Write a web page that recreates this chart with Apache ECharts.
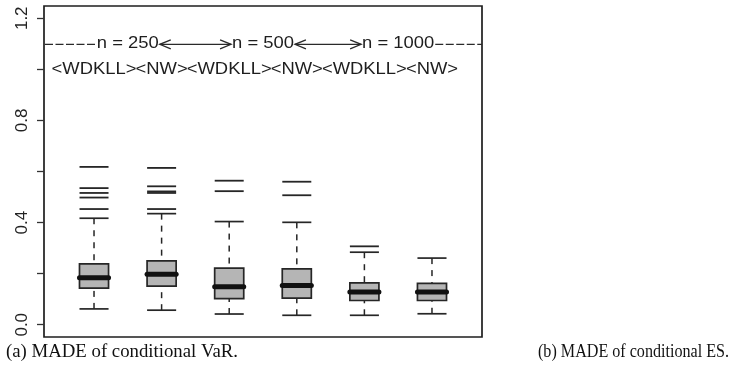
<!DOCTYPE html>
<html><head><meta charset="utf-8">
<script src="https://cdn.jsdelivr.net/npm/echarts@6/dist/echarts.min.js"></script>
<style>html,body{margin:0;padding:0;background:#fff}#c{width:731px;height:375px}</style>
</head><body><div id="c"></div>
<script>
// ---- data ----
const categories = ['WDKLL n=250', 'NW n=250', 'WDKLL n=500', 'NW n=500', 'WDKLL n=1000', 'NW n=1000'];
const whiskerLow  = [0.062, 0.057, 0.042, 0.037, 0.037, 0.043];
const q1          = [0.143, 0.151, 0.102, 0.104, 0.095, 0.095];
const median      = [0.184, 0.198, 0.149, 0.154, 0.128, 0.128];
const q3          = [0.238, 0.250, 0.222, 0.219, 0.164, 0.162];
const whiskerHigh = [0.417, 0.435, 0.404, 0.401, 0.284, 0.261];
const outliers = [
  [0.618, 0.535, 0.516, 0.498, 0.453],
  [0.614, 0.542, 0.522, 0.516, 0.453],
  [0.564, 0.523],
  [0.560, 0.507],
  [0.307],
  []
];
const yTickValues  = [0, 0.2, 0.4, 0.6, 0.8, 1.0, 1.2];
const yLabelValues = [0, 0.4, 0.8, 1.2];
const sizeLabels = ['n = 250', 'n = 500', 'n = 1000'];
const sizePos    = [1.5, 3.5, 5.5];
const sizeRowY   = 1.1;
const methodLabels = ['<WDKLL>', '<NW>', '<WDKLL>', '<NW>', '<WDKLL>', '<NW>'];
const methodRowY   = 1.0;
const captionA = '(a) MADE of conditional VaR.';
const captionB = '(b) MADE of conditional ES.';

// ---- build ----
const boxData = categories.map((c, i) => [i + 1, whiskerLow[i], q1[i], median[i], q3[i], whiskerHigh[i]]);
const outData = [];
outliers.forEach((arr, i) => arr.forEach(v => outData.push([i + 1, v])));

const INK = '#262626';
const chart = echarts.init(document.getElementById('c'), null, {renderer: 'canvas'});

function renderBox(params, api) {
  const x = api.value(0);
  const lo = api.coord([x, api.value(1)]);
  const b1 = api.coord([x, api.value(2)]);
  const md = api.coord([x, api.value(3)]);
  const b3 = api.coord([x, api.value(4)]);
  const hi = api.coord([x, api.value(5)]);
  const band = api.size([1, 0])[0];
  const half = band * 0.215;
  const cx = md[0];
  const dash = {stroke: INK, lineWidth: 1.5, lineDash: [6, 6]};
  const solid = {stroke: INK, lineWidth: 1.7};
  return {
    type: 'group',
    children: [
      {type: 'line', shape: {x1: cx, y1: hi[1], x2: cx, y2: b3[1]}, style: dash},
      {type: 'line', shape: {x1: cx, y1: lo[1], x2: cx, y2: b1[1]}, style: dash},
      {type: 'line', shape: {x1: cx - half, y1: hi[1], x2: cx + half, y2: hi[1]}, style: solid},
      {type: 'line', shape: {x1: cx - half, y1: lo[1], x2: cx + half, y2: lo[1]}, style: solid},
      {type: 'rect', shape: {x: cx - half, y: b3[1], width: 2 * half, height: b1[1] - b3[1]},
        style: {fill: '#b5b5b5', stroke: INK, lineWidth: 1.7}},
      {type: 'line', shape: {x1: cx - half, y1: md[1], x2: cx + half, y2: md[1]},
        style: {stroke: '#111', lineWidth: 5, lineCap: 'round'}}
    ]
  };
}

chart.setOption({
  animation: false,
  grid: {left: 44, right: 249, top: 6, bottom: 38, show: true, borderColor: '#1e1e1e', borderWidth: 1.7, backgroundColor: 'transparent'},
  xAxis: {type: 'value', min: 0.26, max: 6.74, show: false},
  yAxis: {
    type: 'value', min: -0.048, max: 1.248,
    splitLine: {show: false},
    axisLine: {show: false},
    axisTick: {show: true, inside: false, length: 7, customValues: yTickValues, lineStyle: {color: '#333', width: 1.3}},
    axisLabel: {show: true, customValues: yLabelValues, rotate: 90, margin: 13, color: '#222',
      fontSize: 17, fontFamily: 'Liberation Sans', formatter: v => Number(v).toFixed(1)}
  },
  series: [
    {type: 'custom', renderItem: renderBox, data: boxData, encode: {x: 0, y: [1, 2, 3, 4, 5]}, z: 2},
    {type: 'scatter', data: outData, symbol: 'rect', symbolSize: [29, 1.8], itemStyle: {color: INK, opacity: 1}, z: 3}
  ]
});

// ---- annotations ----
const SX = 1.15;
const FONT = '16px "Liberation Sans"';
const CAPFONT = '18.5px "Liberation Serif"';
const ctx = document.createElement('canvas').getContext('2d');
const tw = (s, f) => { ctx.font = f || FONT; return ctx.measureText(s).width; };
const P = (x, y) => chart.convertToPixel({gridIndex: 0}, [x, y]);

const g = [];
function addText(s, px, py) {
  g.push({type: 'text', x: px, y: py, scaleX: SX, z: 10,
    style: {text: s, x: 0, y: 0, align: 'center', verticalAlign: 'middle', font: FONT, fill: '#1e1e1e'}});
}
function addLine(x1, x2, y, dashArr) {
  g.push({type: 'line', z: 10, shape: {x1, y1: y, x2, y2: y},
    style: {stroke: '#2a2a2a', lineWidth: 1.3, lineDash: dashArr || null}});
}
function addHead(xTip, y, dir) {
  g.push({type: 'polyline', z: 10, shape: {points: [[xTip + dir * 11, y - 4.5], [xTip, y], [xTip + dir * 11, y + 4.5]]},
    style: {stroke: '#2a2a2a', lineWidth: 1.3, fill: null}});
}

const leftEdge = P(0.26, 0)[0], rightEdge = P(6.74, 0)[0];
const edges = sizeLabels.map((s, i) => {
  const p = P(sizePos[i], sizeRowY);
  addText(s, p[0], p[1]);
  const w = tw(s) * SX;
  return [p[0] - w / 2, p[0] + w / 2, p[1]];
});
const yy = edges[0][2] + 0.5;
addLine(leftEdge + 1, edges[0][0] - 1, yy, [8, 2.5]);
addLine(edges[2][1] + 1, rightEdge, yy, [8, 2.5]);
for (let i = 0; i < 2; i++) {
  const a = edges[i][1] + 1, b = edges[i + 1][0] - 1;
  addLine(a, b, yy);
  addHead(a, yy, 1);
  addHead(b, yy, -1);
}
methodLabels.forEach((s, i) => {
  const p = P(i + 1, methodRowY);
  addText(s, p[0], p[1]);
});

// captions below the panel
const capAStart = 6, capAWidth = 232;
const capBStart = 538, capBWidth = 191;
g.push({type: 'text', x: capAStart, y: 352, z: 10, scaleX: capAWidth / tw(captionA, CAPFONT),
  style: {text: captionA, x: 0, y: 0, font: CAPFONT, fill: '#111', align: 'left', verticalAlign: 'middle'}});
g.push({type: 'text', x: capBStart, y: 352, z: 10, scaleX: capBWidth / tw(captionB, CAPFONT),
  style: {text: captionB, x: 0, y: 0, font: CAPFONT, fill: '#111', align: 'left', verticalAlign: 'middle'}});

chart.setOption({graphic: g});
</script></body></html>
